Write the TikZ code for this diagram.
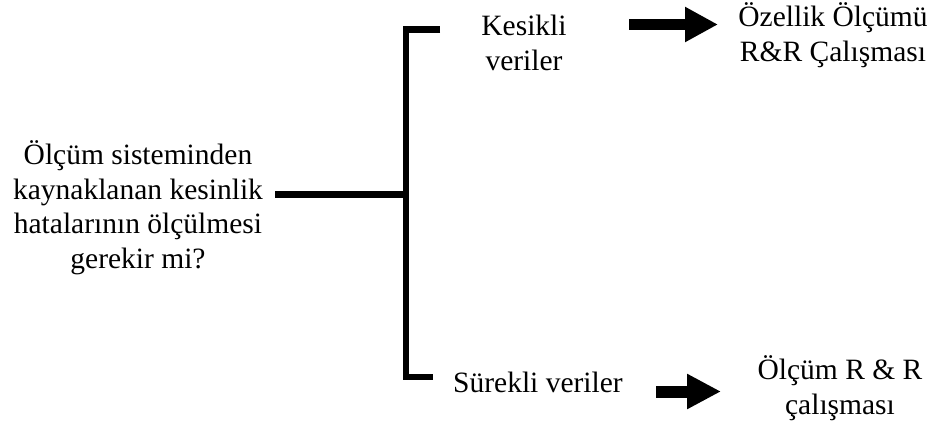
\documentclass[tikz,border=0pt]{standalone}
\usepackage{fontspec}
\setmainfont{Liberation Serif}
\usetikzlibrary{arrows.meta}
\tikzset{
  lbl/.style={inner sep=0pt, align=center, font=\fontsize{29.5}{34.5}\selectfont},
  brk/.style={line width=6.5pt, line join=miter},
  fat/.style={line width=11.5pt, -{Triangle[length=33pt,width=33pt]}}
}
\begin{document}
\begin{tikzpicture}[x=1pt,y=-1pt]
\useasboundingbox (0,0) rectangle (935,423);
\node[lbl, anchor=base] (q) at (138,268) {Ölçüm sisteminden\\kaynaklanan kesinlik\\hatalarının ölçülmesi\\gerekir mi?};
\node[lbl, anchor=base] (kes) at (524,70) {Kesikli\\veriler};
\node[lbl, anchor=base] (oz) at (833,61) {Özellik Ölçümü\\R\&R Çalışması};
\node[lbl, anchor=base] (sur) at (538,392) {Sürekli veriler};
\node[lbl, anchor=base] (olc) at (840,414) {Ölçüm R \& R\\çalışması};
\coordinate (bt) at (440,29.5);
\coordinate (bb) at (433,377);
\coordinate (bm) at (406,194.5);
\coordinate (qe) at (275,194.5);
\draw[brk] (bt) -- (406,29.5) -- (406,377) -- (bb);
\draw[line width=7pt] (qe) -- (bm);
\coordinate (a1s) at (629,24.5);
\coordinate (a1e) at (718,24.5);
\coordinate (a2s) at (656,391.5);
\coordinate (a2e) at (721,391.5);
\draw[fat] (a1s) -- (a1e);
\draw[fat, line width=12pt, -{Triangle[length=34pt,width=33pt]}] (a2s) -- (a2e);
\end{tikzpicture}
\end{document}
